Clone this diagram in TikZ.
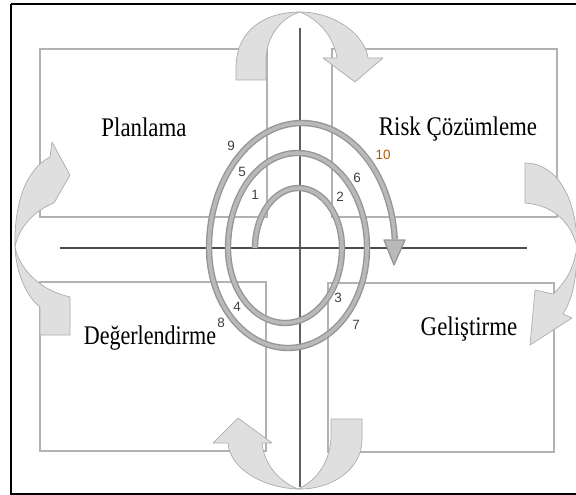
\documentclass[tikz,border=0pt]{standalone}
\usepackage{graphicx}
\usepackage{fontspec}
\setmainfont{Liberation Serif}
\newfontfamily\numfont{Liberation Sans}
\begin{document}
\begin{tikzpicture}[x=1bp,y=-1bp,
  quad/.style={draw=gray!60, line width=1.1},
  arrowshape/.style={fill=gray!25, draw=gray!65, line width=0.7, line join=round},
  band/.style={draw=gray!82, line width=1.4, double=gray!55, double distance=3.6},
  num/.style={font=\numfont\fontsize{13.5}{13.5}\selectfont, text=gray!50!black, inner sep=0},
  lab/.style={font=\fontsize{27}{29}\selectfont, inner sep=0, anchor=base}]
\useasboundingbox (0,0) rectangle (576,495);
% outer frame
\draw[line width=1.6] (11,4) -- (580,4) (11,4) -- (11,494) -- (580,494);
% quadrant rectangles
\draw[quad] (40,49) rectangle (267,217);
\draw[quad] (332,49) rectangle (557,217);
\draw[quad] (40,282) rectangle (266,451);
\draw[quad] (328,283) rectangle (554,452);
% cross lines
\draw[draw=gray!75!black, line width=1.1] (300,28) -- (300,487);
\draw[draw=gray!60!black, line width=1.8] (60,248) -- (527,248);
% top arrow
\draw[arrowshape] (236,80) -- (236,68) .. controls (236,30) and (265,12) .. (300,12)
  .. controls (280,18) and (266,38) .. (266,60) -- (266,80) -- cycle;
\draw[arrowshape] (300,12) .. controls (335,12) and (365,35) .. (368,58) -- (383,58) -- (355,82) -- (323,58) -- (337,58)
  .. controls (334,38) and (320,20) .. (300,12) -- cycle;
% bottom arrow
\draw[arrowshape] (331,419) -- (362,419) -- (362,440) .. controls (362,470) and (330,490) .. (298,489)
  .. controls (318,480) and (331,460) .. (331,435) -- cycle;
\draw[arrowshape] (228,443) -- (213,443) -- (238,418) -- (272,443) -- (262,443)
  .. controls (264,465) and (280,482) .. (298,489) .. controls (265,488) and (230,470) .. (228,443) -- cycle;
% left arrow
\draw[arrowshape] (15,247) .. controls (14,205) and (25,170) .. (50,157) -- (52,142) -- (70,175) -- (54,203)
  .. controls (35,210) and (18,228) .. (15,247) -- cycle;
\draw[arrowshape] (15,247) .. controls (16,275) and (28,298) .. (40,307) -- (40,335) -- (70,335) -- (70,297)
  .. controls (40,290) and (20,270) .. (15,247) -- cycle;
% right arrow
\draw[arrowshape] (525,163) .. controls (555,163) and (577,195) .. (577,247)
  .. controls (572,225) and (555,205) .. (525,203) -- cycle;
\draw[arrowshape] (577,247) .. controls (574,268) and (566,282) .. (553,294) -- (535,290) -- (530,345)
  -- (572,318) -- (563,314) .. controls (572,300) and (577,280) .. (577,247) -- cycle;
% spiral
\draw[band] (255,248) arc[start angle=180, end angle=360, x radius=43.5, y radius=60]
  arc[start angle=0, end angle=180, x radius=57, y radius=75]
  arc[start angle=180, end angle=360, x radius=69.5, y radius=95]
  arc[start angle=0, end angle=180, x radius=79, y radius=100]
  arc[start angle=180, end angle=356, x radius=93, y radius=125];
\draw[fill=gray!55, draw=gray!82, line width=1.3, line join=round] (384,240) -- (405,240) -- (394,265) -- cycle;
% numbers
\node[num] (n9) at (231,146) {9};
\node[num] (n5) at (242,172) {5};
\node[num] (n1) at (255,195) {1};
\node[num] (n2) at (340,197) {2};
\node[num] (n6) at (357,178) {6};
\node[num, text=orange!70!black] (n10) at (383,155) {10};
\node[num] (n3) at (338,298) {3};
\node[num] (n7) at (356,325) {7};
\node[num] (n4) at (237,307) {4};
\node[num] (n8) at (221,323) {8};
% labels
\node[lab] (plan) at (144,137) {\scalebox{0.85}[1]{Planlama}};
\node[lab] (risk) at (458,136) {\scalebox{0.85}[1]{Risk Çözümleme}};
\node[lab] (deger) at (150,344) {\scalebox{0.82}[1]{Değerlendirme}};
\node[lab] (gelis) at (469,335) {\scalebox{0.85}[1]{Geliştirme}};
\end{tikzpicture}
\end{document}
